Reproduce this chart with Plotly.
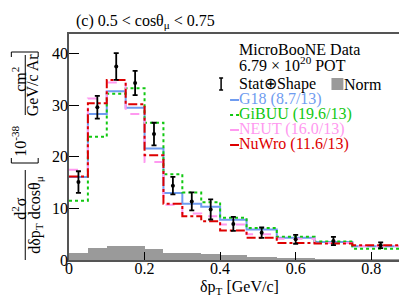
import plotly.graph_objects as go

# ---------------- data ----------------
bin_edges = [0, 0.05, 0.1, 0.15, 0.2, 0.25, 0.3, 0.35, 0.4, 0.47, 0.55, 0.65, 0.75, 0.9]
data_vals = [15.1, 29.6, 37.5, 34.3, 24.4, 14.4, 11.35, 9.8, 7.0, 5.3, 4.0, 3.7, 2.85]
data_errs = [2.1, 2.2, 2.6, 2.35, 2.2, 1.7, 1.75, 1.95, 1.35, 1.0, 0.85, 0.8, 0.55]
g18_vals = [16.1, 28.3, 32.7, 29.5, 21.6, 13.0, 10.9, 10.3, 7.8, 5.9, 4.3, 3.5, 2.65]
gibuu_vals = [11.5, 23.9, 32.2, 33.3, 26.6, 16.6, 13.1, 11.2, 8.2, 6.2, 4.5, 3.6, 2.2]
neut_vals = [17.5, 31.3, 34.4, 28.3, 19.0, 10.7, 9.0, 8.5, 6.9, 5.0, 4.1, 3.3, 2.7]
nuwro_vals = [16.2, 30.4, 34.9, 30.2, 20.3, 10.9, 8.5, 7.5, 5.7, 4.3, 3.3, 3.2, 2.85]
norm_vals = [1.4, 2.38, 2.7, 2.65, 2.1, 1.45, 1.3, 1.15, 0.95, 0.6, 0.45, 0.08, 0.03]
x_tickvals = [0, 0.2, 0.4, 0.6, 0.8]
x_ticktext = ["0", "0.2", "0.4", "0.6", "0.8"]
y_tickvals = [0, 10, 20, 30, 40]
y_ticktext = ["0", "10", "20", "30", "40"]

models = [
    ("G18 (8.7/13)", g18_vals, "#6f9cf0", "solid"),
    ("GiBUU (19.6/13)", gibuu_vals, "#11c811", "dot"),
    ("NEUT (16.0/13)", neut_vals, "#ff99f0", "dash"),
    ("NuWro (11.6/13)", nuwro_vals, "#dd0000", "dashdot"),
]

centers = [(a + b) / 2 for a, b in zip(bin_edges[:-1], bin_edges[1:])]
widths = [b - a for a, b in zip(bin_edges[:-1], bin_edges[1:])]

FONT = "Liberation Serif, Times New Roman, serif"
W, H = 407, 295
L, R, T, B = 61, 4, 26, 43
PW, PH = W - L - R, H - T - B


def px(x):
    return (x - L) / PW


def py(y):
    return (H - B - y) / PH


fig = go.Figure()

fig.add_trace(go.Bar(x=centers, y=norm_vals, width=widths, marker=dict(color="#9a9a9a", line=dict(width=0)),
                     showlegend=False, hoverinfo="skip"))

for name, vals, col, dash in models:
    fig.add_trace(go.Scatter(x=bin_edges, y=vals + [vals[-1]], mode="lines", line_shape="hv",
                             line=dict(color=col, width=2, dash=dash), showlegend=False))

fig.add_trace(go.Scatter(x=centers, y=data_vals, mode="markers",
                         marker=dict(color="black", size=4),
                         error_y=dict(type="data", array=data_errs, color="black", thickness=1.8, width=2.5),
                         showlegend=False))

ann = []
shapes = []


def text(x, y, s, color="black", size=16, xanchor="left", yanchor="middle", angle=0):
    ann.append(dict(x=px(x), y=py(y), xref="paper", yref="paper", text=s, showarrow=False,
                    xanchor=xanchor, yanchor=yanchor, textangle=angle, borderpad=0,
                    font=dict(family=FONT, size=size, color=color)))


def line(x0, y0, x1, y1, color="black", width=1, dash="solid"):
    shapes.append(dict(type="line", xref="paper", yref="paper", x0=px(x0), y0=py(y0), x1=px(x1), y1=py(y1),
                       line=dict(color=color, width=width, dash=dash)))


# title
text(67, 13, "(c) 0.5 &lt; cosθ<sub>μ</sub> &lt; 0.75")

# legend
text(231, 41, "MicroBooNE Data")
text(231, 56, "6.79 × 10<sup>20</sup> POT")
text(231, 76, "Stat⊕Shape")
text(337, 76, "Norm")
line(214, 70, 214, 82, width=1.5)
line(212, 70, 216, 70, width=1.5)
line(212, 82, 216, 82, width=1.5)
shapes.append(dict(type="rect", xref="paper", yref="paper", x0=px(325), x1=px(337), y0=py(82), y1=py(70),
                   fillcolor="#9a9a9a", line=dict(width=0)))
for i, (name, vals, col, dash) in enumerate(models):
    yy = 91 + i * 15
    text(231, yy, name, color=col)
    line(223, yy + 1, 232, yy + 1, color=col, width=2, dash=dash)

# x axis title
text(232, 279, "δp<sub>T</sub> [GeV/c]", xanchor="center")

# y axis title (rotated fractions)
text(10.5, 200, "d<sup>2</sup>σ", xanchor="center", angle=-90)
line(17, 162, 17, 252)
text(26.5, 207, "dδp<sub>T</sub> dcosθ<sub>μ</sub>", xanchor="center", angle=-90)
text(10.5, 133, "10<sup>-38</sup>", xanchor="center", angle=-90)
text(10.5, 71, "cm<sup>2</sup>", xanchor="center", angle=-90)
line(17, 47, 17, 107)
text(24, 77, "GeV/c Ar", xanchor="center", angle=-90)
# brackets
shapes.append(dict(type="path", xref="paper", yref="paper",
                   path=f"M {px(3)} {py(150)} L {px(3)} {py(155)} L {px(30)} {py(155)} L {px(30)} {py(150)}",
                   line=dict(color="black", width=1)))
shapes.append(dict(type="path", xref="paper", yref="paper",
                   path=f"M {px(3)} {py(49)} L {px(3)} {py(44)} L {px(30)} {py(44)} L {px(30)} {py(49)}",
                   line=dict(color="black", width=1)))

axis_common = dict(showgrid=False, zeroline=False, showline=True, mirror=True, linecolor="#555555",
                   linewidth=1.5, ticks="inside", tickcolor="black",
                   tickfont=dict(family=FONT, size=16, color="black"))

fig.update_layout(
    width=W, height=H, margin=dict(l=L, r=R, t=T, b=B),
    paper_bgcolor="white", plot_bgcolor="white",
    barmode="overlay", bargap=0,
    xaxis=dict(range=[0, 0.9], tickvals=x_tickvals, ticktext=x_ticktext, ticklen=8,
               ticklabelstandoff=-7, **axis_common),
    yaxis=dict(range=[0, 43.8], tickvals=y_tickvals, ticktext=y_ticktext, ticklen=10,
               ticklabelstandoff=-4, **axis_common),
    annotations=ann, shapes=shapes, showlegend=False,
)

fig.write_html("out.html")
